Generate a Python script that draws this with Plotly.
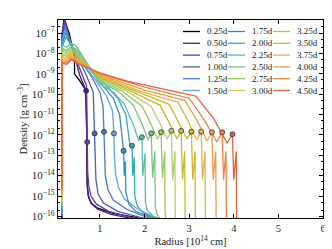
import plotly.graph_objects as go

# ---------------- data (radius in 1e14 cm, log10 density in g cm^-3) ----------------
labels = ["0.25d", "0.50d", "0.75d", "1.00d", "1.25d", "1.50d",
          "1.75d", "2.00d", "2.25d", "2.50d", "2.75d", "3.00d",
          "3.25d", "3.50d", "3.75d", "4.00d", "4.25d", "4.50d"]

colors = ["#000000", "#4b1591", "#5b3ea6", "#4a5bb9", "#4a79cc", "#66a3dc",
          "#2f8fc7", "#35a9b8", "#5cbfa5", "#79c47f", "#95c95d", "#b3cf6c",
          "#c2bd2c", "#d6b42b", "#e8b04a", "#f29b46", "#ef8142", "#e6643b"]

r_025 = [0.15, 0.15, 0.19, 0.24, 0.31, 0.43, 0.43, 0.55, 0.68, 0.705, 0.712, 0.74, 0.80, 0.95, 1.30, 1.80, 2.20]
l_025 = [-16.3, -7.6, -6.3, -6.6, -7.0, -8.2, -9.0, -9.35, -9.8, -12.0, -14.4, -15.0, -15.35, -15.6, -15.85, -16.05, -16.3]

r_050 = [0.15, 0.15, 0.21, 0.30, 0.42, 0.55, 0.69, 0.71, 0.72, 0.75, 0.82, 0.95, 1.25, 1.70, 2.10]
l_050 = [-16.3, -7.0, -6.3, -7.1, -8.0, -9.1, -9.83, -12.8, -14.6, -15.1, -15.4, -15.65, -15.9, -16.1, -16.3]

r_075 = [0.15, 0.15, 0.21, 0.32, 0.45, 0.60, 0.70, 0.71, 0.715, 0.725, 0.75, 0.80, 0.92, 1.20, 1.70, 2.20]
l_075 = [-16.2, -7.2, -6.4, -7.4, -8.2, -9.0, -9.6, -11.0, -12.35, -13.8, -14.5, -15.0, -15.4, -15.75, -16.05, -16.3]

r_100 = [0.15, 0.15, 0.22, 0.35, 0.50, 0.70, 0.85, 0.87, 0.881, 0.89, 0.91, 0.96, 1.08, 1.40, 1.90, 2.40]
l_100 = [-16.1, -7.3, -6.55, -7.5, -8.2, -9.1, -9.9, -11.2, -11.93, -13.4, -14.2, -14.9, -15.35, -15.75, -16.05, -16.3]

r_125 = [0.15, 0.15, 0.22, 0.35, 0.55, 0.80, 1.00, 1.07, 1.09, 1.10, 1.12, 1.18, 1.30, 1.60, 2.00, 2.45]
l_125 = [-16.0, -7.4, -6.7, -7.55, -8.3, -9.1, -9.9, -10.6, -11.85, -13.2, -14.0, -14.7, -15.2, -15.65, -16.0, -16.3]

r_150 = [0.15, 0.15, 0.22, 0.35, 0.60, 0.90, 1.15, 1.28, 1.314, 1.325, 1.35, 1.42, 1.55, 1.85, 2.20, 2.50]
l_150 = [-15.9, -7.5, -6.85, -7.6, -8.45, -9.3, -10.1, -10.8, -11.93, -13.1, -13.9, -14.6, -15.15, -15.65, -16.0, -16.3]

r_175 = [0.15, 0.15, 0.23, 0.40, 0.70, 1.00, 1.30, 1.44, 1.51, 1.53, 1.545, 1.57, 1.58, 1.65, 1.80, 2.10, 2.55]
l_175 = [-15.8, -7.6, -7.0, -7.75, -8.6, -9.4, -10.2, -11.0, -12.7, -12.78, -14.0, -13.3, -14.8, -15.4, -15.75, -16.0, -16.3]

r_200 = [0.15, 0.15, 0.24, 0.45, 0.80, 1.10, 1.40, 1.58, 1.68, 1.72, 1.735, 1.77, 1.78, 1.84, 1.98, 2.25, 2.60]
l_200 = [-15.7, -7.7, -7.2, -7.9, -8.75, -9.5, -10.2, -11.0, -12.6, -12.53, -14.0, -13.1, -15.0, -15.5, -15.85, -16.05, -16.3]

r_225 = [0.15, 0.15, 0.25, 0.36, 0.47, 1.00, 1.30, 1.55, 1.75, 1.87, 1.94, 1.96, 2.01, 2.02, 2.06, 2.20, 2.50]
l_225 = [-15.6, -7.6, -7.7, -7.5, -7.65, -9.5, -9.9, -10.5, -11.5, -12.3, -12.11, -14.0, -12.9, -15.3, -15.7, -16.0, -16.3]

r_250 = [0.15, 0.15, 0.25, 0.36, 0.47, 1.00, 1.40, 1.75, 1.95, 2.08, 2.15, 2.18, 2.23, 2.24, 2.28, 2.40]
l_250 = [-15.5, -7.75, -7.85, -7.65, -7.8, -9.4, -9.85, -10.55, -11.5, -12.25, -11.92, -14.1, -12.8, -15.5, -15.9, -16.3]

r_275 = [0.15, 0.15, 0.25, 0.36, 0.47, 1.00, 1.50, 1.95, 2.15, 2.29, 2.37, 2.40, 2.45, 2.46, 2.50]
l_275 = [-15.4, -7.85, -7.95, -7.75, -7.9, -9.32, -9.85, -10.6, -11.5, -12.2, -11.87, -14.1, -12.8, -15.8, -16.3]

r_300 = [0.15, 0.15, 0.25, 0.36, 0.47, 1.00, 1.60, 2.15, 2.35, 2.51, 2.60, 2.63, 2.68, 2.69]
l_300 = [-15.3, -7.95, -8.05, -7.85, -8.0, -9.25, -9.85, -10.6, -11.45, -12.2, -11.80, -14.2, -12.8, -16.3]

r_325 = [0.15, 0.15, 0.25, 0.36, 0.47, 1.00, 1.70, 2.35, 2.55, 2.73, 2.82, 2.85, 2.90, 2.91]
l_325 = [-15.2, -8.05, -8.15, -7.95, -8.1, -9.2, -9.85, -10.55, -11.4, -12.2, -11.80, -14.2, -12.8, -16.3]

r_350 = [0.15, 0.15, 0.25, 0.36, 0.47, 1.00, 1.80, 2.55, 2.77, 2.95, 3.05, 3.08, 3.13, 3.14]
l_350 = [-15.1, -8.15, -8.25, -8.05, -8.2, -9.15, -9.85, -10.5, -11.4, -12.2, -11.84, -14.2, -12.8, -16.3]

r_375 = [0.15, 0.15, 0.25, 0.36, 0.47, 1.00, 1.90, 2.75, 2.98, 3.17, 3.27, 3.30, 3.355, 3.365]
l_375 = [-15.0, -8.25, -8.35, -8.13, -8.28, -9.1, -9.85, -10.4, -11.35, -12.25, -11.84, -14.2, -12.8, -16.3]

r_400 = [0.15, 0.15, 0.25, 0.36, 0.47, 1.00, 2.00, 2.90, 3.18, 3.40, 3.51, 3.54, 3.595, 3.605]
l_400 = [-14.9, -8.33, -8.42, -8.2, -8.35, -9.05, -9.8, -10.3, -11.3, -12.3, -11.87, -14.2, -12.8, -16.3]

r_425 = [0.15, 0.15, 0.25, 0.36, 0.47, 1.00, 2.00, 3.00, 3.35, 3.62, 3.74, 3.77, 3.825, 3.835]
l_425 = [-14.75, -8.4, -8.5, -8.26, -8.42, -9.0, -9.65, -10.2, -11.3, -12.35, -11.87, -14.2, -12.8, -16.3]

r_450 = [0.15, 0.15, 0.25, 0.36, 0.47, 1.00, 1.63, 2.50, 3.15, 3.55, 3.85, 3.97, 4.00, 4.055, 4.065]
l_450 = [-14.6, -8.47, -8.55, -8.31, -8.47, -8.96, -9.37, -9.8, -10.1, -11.2, -12.4, -11.97, -14.2, -12.8, -16.3]

radii = [r_025, r_050, r_075, r_100, r_125, r_150, r_175, r_200, r_225,
         r_250, r_275, r_300, r_325, r_350, r_375, r_400, r_425, r_450]
logrhos = [l_025, l_050, l_075, l_100, l_125, l_150, l_175, l_200, l_225,
           l_250, l_275, l_300, l_325, l_350, l_375, l_400, l_425, l_450]

# circle markers (curves 0.50d ... 4.50d)
marker_radius = [0.69, 0.715, 0.881, 1.09, 1.314, 1.53, 1.72, 1.94, 2.15,
                 2.37, 2.60, 2.82, 3.05, 3.27, 3.51, 3.74, 3.97]
marker_logrho = [-9.83, -12.35, -11.93, -11.85, -11.93, -12.78, -12.53, -12.11, -11.92,
                 -11.87, -11.80, -11.80, -11.84, -11.84, -11.87, -11.87, -11.97]

x_ticks = [1, 2, 3, 4, 5, 6]
y_exponents = [-16, -15, -14, -13, -12, -11, -10, -9, -8, -7]

# ---------------- figure ----------------
FONT = "Liberation Serif"
fig = go.Figure()

for lab, col, rr, ll in zip(labels, colors, radii, logrhos):
    fig.add_trace(go.Scatter(x=rr, y=[10 ** v for v in ll], mode="lines",
                             line=dict(color=col, width=1.3), name=lab,
                             showlegend=False, hoverinfo="skip"))

for i, (mr, ml) in enumerate(zip(marker_radius, marker_logrho)):
    col = colors[i + 1]
    fig.add_trace(go.Scatter(x=[mr], y=[10 ** ml], mode="markers",
                             marker=dict(color=col, size=5, line=dict(color="#333333", width=0.8)),
                             showlegend=False, hoverinfo="skip"))

# manual legend, 3 columns x 6 rows (column-major)
W, H = 332, 249
L_M, R_M, T_M, B_M = 50, 17, 12, 39
pw, ph = W - L_M - R_M, H - T_M - B_M
col_x = [175, 220, 265]
row_y = [23.5, 35.3, 47.1, 58.9, 70.7, 82.5]
shapes = []
annots = []
for i, (lab, col) in enumerate(zip(labels, colors)):
    c, rw = divmod(i, 6)
    x0 = (col_x[c] - L_M) / pw
    x1 = (col_x[c] + 17 - L_M) / pw
    yy = (H - B_M - row_y[rw]) / ph
    shapes.append(dict(type="line", xref="paper", yref="paper", x0=x0, x1=x1, y0=yy, y1=yy,
                       line=dict(color=col, width=1.3)))
    annots.append(dict(xref="paper", yref="paper", x=(col_x[c] + 22 - L_M) / pw, y=yy,
                       text=lab, showarrow=False, xanchor="left", yanchor="middle",
                       font=dict(family=FONT, size=9, color="#222222")))

fig.update_layout(
    width=W, height=H,
    margin=dict(l=L_M, r=R_M, t=T_M, b=B_M, autoexpand=False),
    paper_bgcolor="white", plot_bgcolor="white",
    shapes=shapes, annotations=annots,
    font=dict(family=FONT, size=10, color="#222222"),
)
fig.update_xaxes(range=[0.06, 6], tickvals=x_ticks, ticktext=[str(v) for v in x_ticks],
                 ticks="inside", ticklen=4, tickwidth=1, tickcolor="black",
                 showline=True, linecolor="black", linewidth=1.2, mirror="ticks",
                 showgrid=False, zeroline=False, automargin=False,
                 title=dict(text="Radius [10<sup>14</sup> cm]", font=dict(family=FONT, size=10.5), standoff=3),
                 tickfont=dict(family=FONT, size=10.5))
fig.update_yaxes(type="log", range=[-16.08, -6.36],
                 tickvals=[10 ** e for e in y_exponents],
                 ticktext=["10<sup>\u2212%d</sup>" % (-e) for e in y_exponents],
                 ticks="inside", ticklen=4, tickwidth=1, tickcolor="black",
                 minor=dict(ticks="inside", ticklen=2, tickcolor="black", showgrid=False),
                 showline=True, linecolor="black", linewidth=1.2, mirror="ticks",
                 showgrid=False, zeroline=False, automargin=False,
                 title=dict(text="Density [g cm<sup>\u22123</sup>]", font=dict(family=FONT, size=10.5), standoff=1),
                 tickfont=dict(family=FONT, size=11))

fig.write_html("out.html")
